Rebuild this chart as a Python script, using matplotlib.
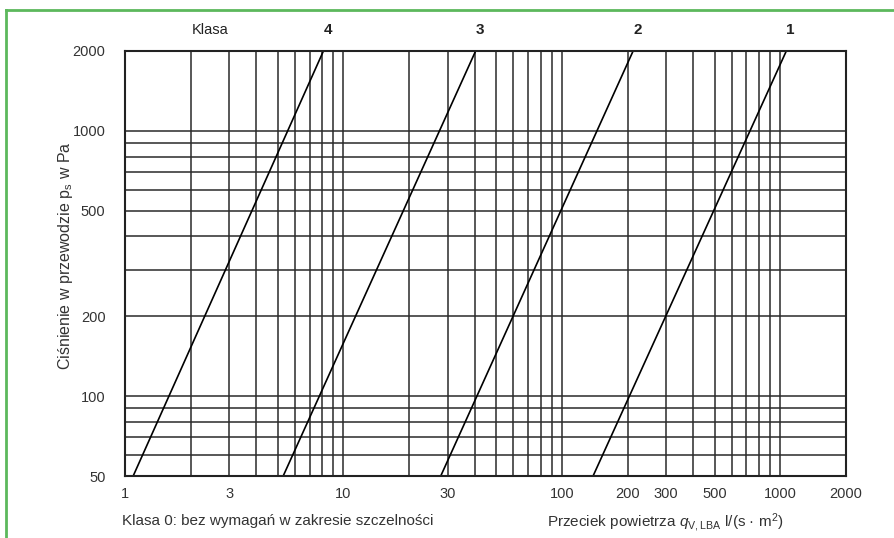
import matplotlib
matplotlib.use('Agg')
import matplotlib.pyplot as plt
from matplotlib.lines import Line2D
from matplotlib.ticker import NullFormatter

plt.rcParams['font.family'] = ['Liberation Sans', 'DejaVu Sans']
plt.rcParams['mathtext.fontset'] = 'custom'
plt.rcParams['mathtext.rm'] = 'Liberation Sans'
plt.rcParams['mathtext.it'] = 'Liberation Sans:italic'

# klasy szczelnosci - punkty koncowe linii przy 50 Pa i 2000 Pa
klasy = ['4', '3', '2', '1']
p_ends = [50, 2000]
q_50 = [1.09, 5.3, 27.9, 139]
q_2000 = [8.1, 40.3, 212, 1066]

x_ticks = [1, 3, 10, 30, 100, 200, 300, 500, 1000, 2000]
y_ticks = [50, 100, 200, 500, 1000, 2000]

# siatka logarytmiczna
x_grid = [2, 3, 4, 5, 6, 7, 8, 9, 10, 20, 30, 40, 50, 60, 70, 80, 90,
          100, 200, 300, 400, 500, 600, 700, 800, 900, 1000]
y_grid = [60, 70, 80, 90, 100, 200, 300, 400, 500, 600, 700, 800, 900, 1000]

fig = plt.figure(figsize=(8.94, 5.38), dpi=100)
ax = fig.add_axes([125/894, 1 - 476/538, 721/894, 425/538])
ax.set_xscale('log')
ax.set_yscale('log')
ax.set_xlim(1, 2000)
ax.set_ylim(50, 2000)

ax.set_xticks(x_ticks, [str(v) for v in x_ticks])
ax.set_yticks(y_ticks, [str(v) for v in y_ticks])
ax.set_xticks(x_grid, minor=True)
ax.set_yticks(y_grid, minor=True)
ax.xaxis.set_minor_formatter(NullFormatter())
ax.yaxis.set_minor_formatter(NullFormatter())
ax.tick_params(which='both', length=0, labelsize=10.5, colors='#333333')
ax.tick_params(axis='x', pad=8)
ax.tick_params(axis='y', pad=14)
ax.grid(which='both', color='#2a2a2a', lw=1.1)
for s in ax.spines.values():
    s.set_linewidth(1.5)
    s.set_color('#222222')

for k, a, b in zip(klasy, q_50, q_2000):
    ax.plot([a, b], p_ends, color='black', lw=1.2)
    ax.annotate(k, (b, 2000), xytext=(3, 15), textcoords='offset points',
                ha='center', va='center', fontsize=11, fontweight='bold',
                color='#222222', annotation_clip=False)
ax.annotate('Klasa', (2.45, 2000), xytext=(0, 15), textcoords='offset points',
            ha='center', va='center', fontsize=10.5, color='#222222',
            annotation_clip=False)

ax.set_ylabel(r'Ciśnienie w przewodzie $\mathrm{p_s}$ w Pa', fontsize=11.5,
              color='#333333', labelpad=0)
ax.yaxis.set_label_coords(-50/721, 0.518)

fig.text(122/894, 1 - 521/538, 'Klasa 0: bez wymagań w zakresie szczelności',
         fontsize=11, color='#333333', va='center', ha='left')
fig.text(547/894, 1 - 523/538, r'Przeciek powietrza $q_{\mathrm{V,LBA}}$ l/(s · m$^2$)',
         fontsize=11, color='#333333', va='center', ha='left')

# zielona ramka
fig.add_artist(Line2D([6/894, 1], [1 - 10/538, 1 - 10/538], color='#5cb85c',
                      lw=2, transform=fig.transFigure))
fig.add_artist(Line2D([6/894, 6/894], [0, 1 - 10/538], color='#5cb85c',
                      lw=2, transform=fig.transFigure))

fig.savefig('out.png', dpi=100)
